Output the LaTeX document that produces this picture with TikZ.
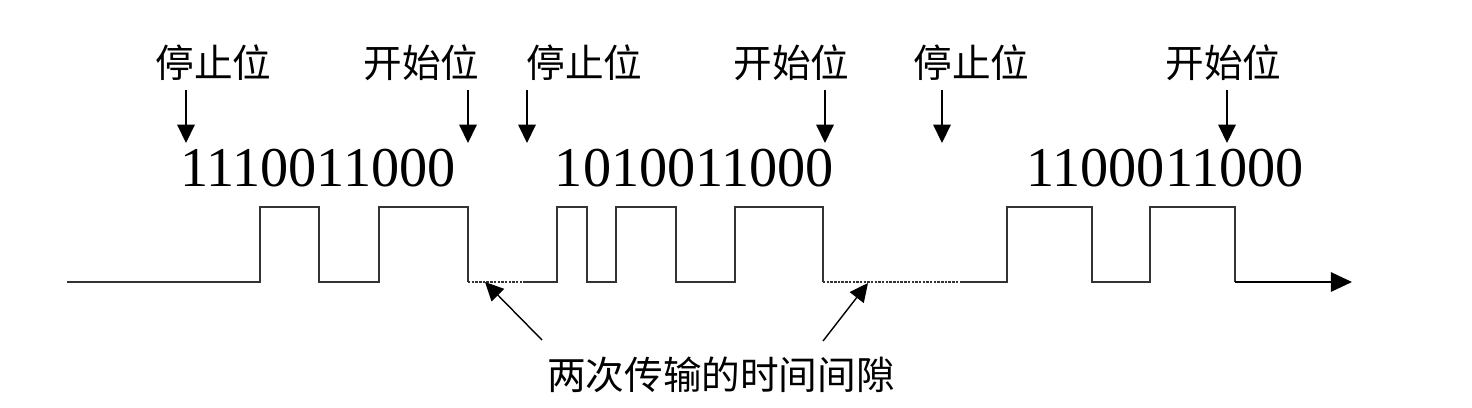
\documentclass[tikz,border=0pt]{standalone}
\usepackage{fontspec}
\setmainfont{Liberation Serif}
\newfontfamily\cjk{Noto Sans CJK SC}
\usetikzlibrary{arrows.meta}

\begin{document}
\begin{tikzpicture}[x=0.02cm,y=-0.02cm,
    lbl/.style={font=\cjk\fontsize{22pt}{26pt}\selectfont,inner sep=0pt},
    bits/.style={font=\fontsize{32pt}{36pt}\selectfont,inner sep=0pt,anchor=base},
    pointer/.style={line width=0.8pt,-{Triangle[length=10.5pt,width=10pt]}},
    wave/.style={line width=1.1pt,color=black!80},
    gap/.style={wave,dash pattern=on 1.4pt off 0.7pt}]
    \useasboundingbox (0,0) rectangle (1472,407);
    % labels above
    \node[lbl] (stopA) at (213.5,63) {停止位};
    \node[lbl] (startA) at (421.5,63) {开始位};
    \node[lbl] (stopB) at (584.5,63) {停止位};
    \node[lbl] (startB) at (791.5,63) {开始位};
    \node[lbl] (stopC) at (971.5,63) {停止位};
    \node[lbl] (startC) at (1223.5,63) {开始位};
    % bit strings
    \node[bits] (bitsA) at (318,186) {1110011000};
    \node[bits] (bitsB) at (694.5,186) {1010011000};
    \node[bits] (bitsC) at (1165,186) {1100011000};
    % pointers
    \coordinate (pA1) at (186,90);  \coordinate (qA1) at (186,143);
    \coordinate (pA2) at (468,90);  \coordinate (qA2) at (468,143);
    \coordinate (pB1) at (527,90);  \coordinate (qB1) at (527,143);
    \coordinate (pB2) at (825,90);  \coordinate (qB2) at (825,143);
    \coordinate (pC1) at (942,90);  \coordinate (qC1) at (942,143);
    \coordinate (pC2) at (1227,90); \coordinate (qC2) at (1227,143);
    \draw[pointer] (pA1) -- (qA1);
    \draw[pointer] (pA2) -- (qA2);
    \draw[pointer] (pB1) -- (qB1);
    \draw[pointer] (pB2) -- (qB2);
    \draw[pointer] (pC1) -- (qC1);
    \draw[pointer] (pC2) -- (qC2);
    % waveform
    \draw[wave] (67,282) -- (260,282) -- (260,207) -- (319,207) -- (319,282) -- (379,282) -- (379,207) -- (468,207) -- (468,282);
    \draw[gap] (468,282) -- (526,282);
    \draw[wave] (526,282) -- (557,282) -- (557,207) -- (587,207) -- (587,282) -- (616,282) -- (616,207) -- (676,207) -- (676,282) -- (735,282) -- (735,207) -- (823,207) -- (823,282);
    \draw[gap] (823,282) -- (960,282);
    \draw[wave] (960,282) -- (1007,282) -- (1007,207) -- (1092,207) -- (1092,282) -- (1150,282) -- (1150,207) -- (1235,207) -- (1235,282);
    \draw[line width=1.1pt,-{Triangle[length=12pt,width=11pt]}] (1235,282) -- (1352,282);
    % gap label
    \node[lbl] (gapnote) at (721,375) {两次传输的时间间隙};
    \coordinate (gL) at (542,340); \coordinate (hL) at (485,282);
    \coordinate (gR) at (823,341); \coordinate (hR) at (868,283);
    \draw[pointer] (gL) -- (hL);
    \draw[pointer] (gR) -- (hR);
\end{tikzpicture}
\end{document}
